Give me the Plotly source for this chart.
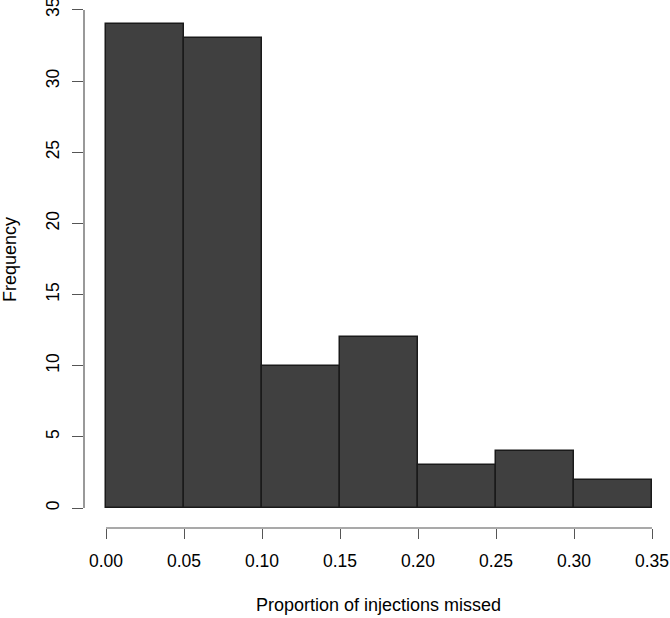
import plotly.graph_objects as go

# Histogram data (bin edges and frequencies)
bin_edges = [0.00, 0.05, 0.10, 0.15, 0.20, 0.25, 0.30, 0.35]
frequencies = [34, 33, 10, 12, 3, 4, 2]
x_ticks = [0.00, 0.05, 0.10, 0.15, 0.20, 0.25, 0.30, 0.35]
x_tick_labels = ["0.00", "0.05", "0.10", "0.15", "0.20", "0.25", "0.30", "0.35"]
y_ticks = [0, 5, 10, 15, 20, 25, 30, 35]
y_tick_labels = ["0", "5", "10", "15", "20", "25", "30", "35"]
x_title = "Proportion of injections missed"
y_title = "Frequency"

centers = [(a + b) / 2 for a, b in zip(bin_edges[:-1], bin_edges[1:])]
widths = [b - a for a, b in zip(bin_edges[:-1], bin_edges[1:])]

FONT = "Liberation Sans, Arial, Helvetica, sans-serif"
AXC = "#555555"

fig = go.Figure()
fig.add_trace(go.Bar(
    x=centers, y=frequencies, width=widths,
    marker=dict(color="#404040", line=dict(color="#1a1a1a", width=1.5)),
    hoverinfo="x+y",
))

fig.update_layout(
    width=670, height=618,
    margin=dict(l=84, r=0, t=0, b=90, pad=0),
    paper_bgcolor="white", plot_bgcolor="white",
    showlegend=False,
    font=dict(family=FONT, size=17.5, color="black"),
    bargap=0,
    xaxis=dict(
        range=[-0.0141, 0.3615], showgrid=False, zeroline=False, showline=False,
        tickmode="array", tickvals=x_ticks, ticktext=x_tick_labels,
        ticks="outside", ticklen=10, tickwidth=1.2, tickcolor=AXC,
        ticklabelstandoff=7, ticklabeloverflow="allow", automargin=False,
        tickfont=dict(family=FONT, size=17.5, color="black"),
    ),
    yaxis=dict(
        range=[-1.405, 35.70], showgrid=False, zeroline=False, showline=False,
        tickmode="array", tickvals=y_ticks, ticktext=y_tick_labels,
        ticks="outside", ticklen=11, tickwidth=1.2, tickcolor=AXC,
        tickangle=-90, ticklabelstandoff=6, ticklabeloverflow="allow", automargin=False,
        tickfont=dict(family=FONT, size=17.5, color="black"),
    ),
    shapes=[
        dict(type="line", xref="x", yref="paper", x0=x_ticks[0], x1=x_ticks[-1], y0=0, y1=0,
             line=dict(color=AXC, width=1.2)),
        dict(type="line", xref="paper", yref="y", x0=0, x1=0, y0=y_ticks[0], y1=y_ticks[-1],
             line=dict(color=AXC, width=1.2)),
    ],
    annotations=[
        dict(text=x_title, xref="paper", yref="paper", x=0.503, y=-0.146,
             xanchor="center", yanchor="middle", showarrow=False,
             font=dict(family=FONT, size=18, color="black")),
        dict(text=y_title, xref="paper", yref="paper", x=-0.1263, y=0.5095,
             xanchor="center", yanchor="middle", textangle=-90, showarrow=False,
             font=dict(family=FONT, size=18, color="black")),
    ],
)

fig.write_html(
    "out.html",
    config={"displayModeBar": False},
    post_script="document.body.style.margin='0';document.body.style.overflow='hidden';",
)
